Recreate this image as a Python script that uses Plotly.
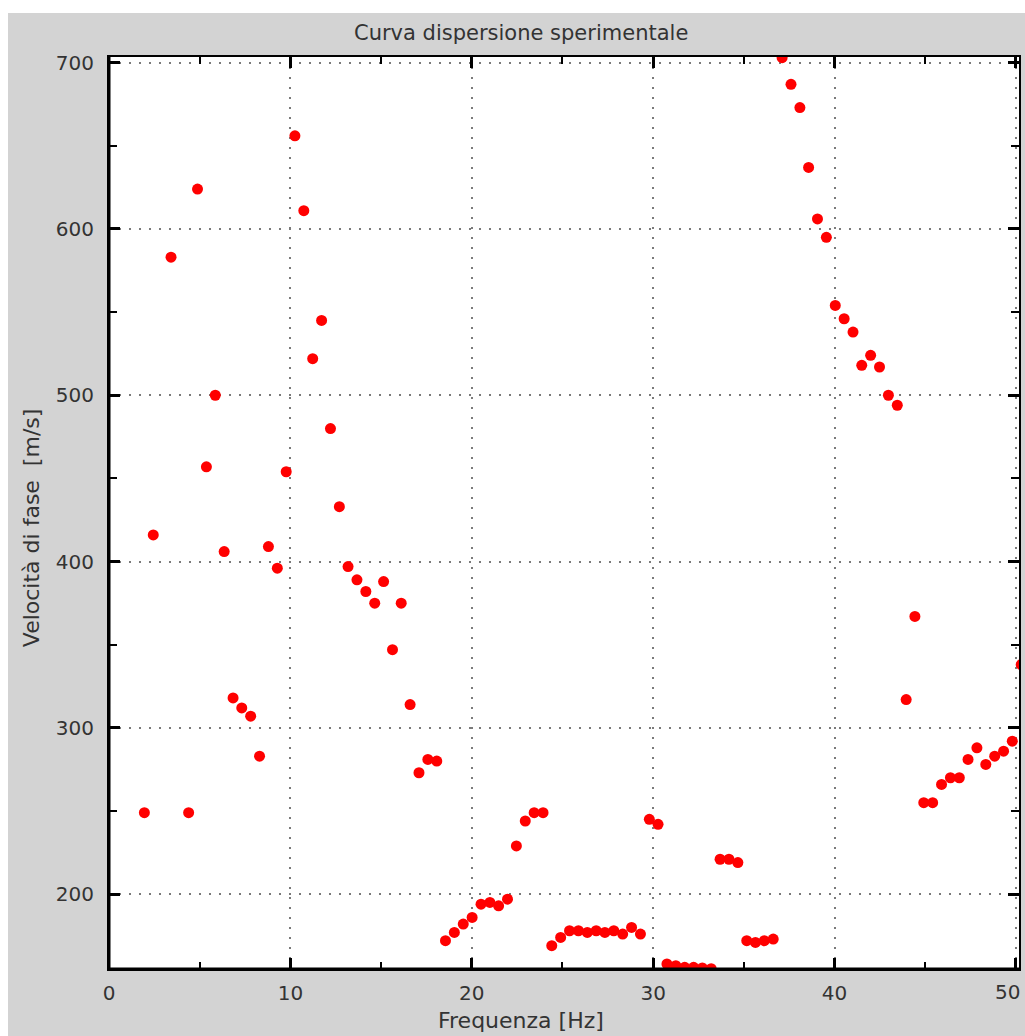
import plotly.graph_objects as go

# Frequencies [Hz]
freq = [1.95, 2.44, 3.42, 4.39, 4.88, 5.37, 5.86, 6.35, 6.84, 7.32,
        7.81, 8.30, 8.79, 9.28, 9.77, 10.25, 10.74, 11.23, 11.72, 12.21,
        12.70, 13.18, 13.67, 14.16, 14.65, 15.14, 15.63, 16.11, 16.60, 17.09,
        17.58, 18.07, 18.55, 19.04, 19.53, 20.02, 20.51, 21.00, 21.48, 21.97,
        22.46, 22.95, 23.44, 23.93, 24.41, 24.90, 25.39, 25.88, 26.37, 26.86,
        27.34, 27.83, 28.32, 28.81, 29.30, 29.79, 30.27, 30.76, 31.25, 31.74,
        32.23, 32.71, 33.20, 33.69, 34.18, 34.67, 35.16, 35.64, 36.13, 36.62,
        37.11, 37.60, 38.09, 38.57, 39.06, 39.55, 40.04, 40.53, 41.02, 41.50,
        41.99, 42.48, 42.97, 43.46, 43.95, 44.43, 44.92, 45.41, 45.90, 46.39,
        46.88, 47.36, 47.85, 48.34, 48.83, 49.32, 49.80, 50.29]

# Phase velocity [m/s]
velocity = [249, 416, 583, 249, 624, 457, 500, 406, 318, 312,
            307, 283, 409, 396, 454, 656, 611, 522, 545, 480,
            433, 397, 389, 382, 375, 388, 347, 375, 314, 273,
            281, 280, 172, 177, 182, 186, 194, 195, 193, 197,
            229, 244, 249, 249, 169, 174, 178, 178, 177, 178,
            177, 178, 176, 180, 176, 245, 242, 158, 157, 156,
            156, 155.6, 155.2, 221, 221, 219, 172, 171, 172, 173,
            703, 687, 673, 637, 606, 595, 554, 546, 538, 518,
            524, 517, 500, 494, 317, 367, 255, 255, 266, 270,
            270, 281, 288, 278, 283, 286, 292, 338]

title_text = "Curva dispersione sperimentale"
x_title = "Frequenza [Hz]"
y_title = "Velocità di fase\u00a0 [m/s]"

x_ticks = [0, 10, 20, 30, 40, 50]
y_ticks = [200, 300, 400, 500, 600, 700]

# The page body adds an 8px margin, so figure coords = screen coords - 8
OFF = 8
W, H = 1017, 1028
ML, MR, MT, MB = 101, 4, 49, 67
PW = W - ML - MR
PH = H - MT - MB

def px_x(p):  # p given in screen pixels
    return (p - OFF - ML) / PW

def px_y(p):
    return (H - MB - (p - OFF)) / PH

GRAY = "#d3d3d3"
TXT = "#333333"
FONT = "DejaVu Sans"

fig = go.Figure()
fig.add_trace(go.Scatter(
    x=freq, y=velocity, mode="markers",
    marker=dict(color="#ff0000", size=11, line=dict(width=0)),
    showlegend=False,
))

axis_common = dict(
    showline=True, linecolor="black", linewidth=2,
    mirror="allticks",
    ticks="inside", ticklen=11, tickwidth=3, tickcolor="black",
    showgrid=True, gridcolor="#7a7a7a", gridwidth=1.6, griddash="2px,8px",
    zeroline=False,
    tickfont=dict(family=FONT, size=20, color=TXT),
)

# the last x tick label sits on the picture's right edge; drawn separately
x_labels = [str(v) for v in x_ticks[:-1]] + [""]

fig.update_xaxes(
    range=[0, 50.17], tickvals=x_ticks, ticktext=x_labels,
    ticklabelstandoff=5,
    minor=dict(ticks="inside", ticklen=7, tickwidth=2, tickcolor="black",
               dtick=5, tick0=0, showgrid=False),
    **axis_common,
)
fig.update_yaxes(
    range=[155, 703.4], tickvals=y_ticks, ticktext=[str(v) for v in y_ticks],
    ticklabelstandoff=9,
    minor=dict(ticks="inside", ticklen=8, tickwidth=2, tickcolor="black",
               dtick=50, tick0=0, showgrid=False),
    **axis_common,
)

shapes = [
    # white strip at the top of the picture
    dict(type="rect", xref="paper", yref="paper", x0=-0.3, x1=1.5,
         y0=px_y(13), y1=1.3, fillcolor="white", line=dict(width=0), layer="below"),
    # thicker left & bottom frame
    dict(type="line", xref="paper", yref="paper", x0=0, x1=0, y0=0, y1=1,
         line=dict(color="black", width=3), layer="above"),
    dict(type="line", xref="paper", yref="paper", x0=0, x1=1, y0=0, y1=0,
         line=dict(color="black", width=3), layer="above"),
]

annotations = [
    dict(text=title_text, xref="paper", yref="paper", x=px_x(522), y=px_y(33),
         xanchor="center", yanchor="middle", showarrow=False,
         font=dict(family=FONT, size=21, color=TXT)),
    dict(text=x_title, xref="paper", yref="paper", x=px_x(522), y=px_y(1020),
         xanchor="center", yanchor="middle", showarrow=False,
         font=dict(family=FONT, size=22, color=TXT)),
    dict(text=y_title, xref="paper", yref="paper", x=px_x(31), y=px_y(528),
         xanchor="center", yanchor="middle", showarrow=False, textangle=-90,
         font=dict(family=FONT, size=22, color=TXT)),
    dict(text=str(x_ticks[-1]), xref="paper", yref="paper", x=px_x(1024), y=px_y(992),
         xanchor="right", yanchor="middle", showarrow=False,
         font=dict(family=FONT, size=20, color=TXT)),
]

fig.update_layout(
    width=W, height=H,
    margin=dict(l=ML, r=MR, t=MT, b=MB, pad=0),
    paper_bgcolor=GRAY, plot_bgcolor="white",
    shapes=shapes, annotations=annotations,
    showlegend=False,
)

# keep the 8px left/top page offset but let the figure reach the window's right edge
fig.write_html("out.html",
               post_script="document.body.style.margin='8px 0px 0px 8px';")
